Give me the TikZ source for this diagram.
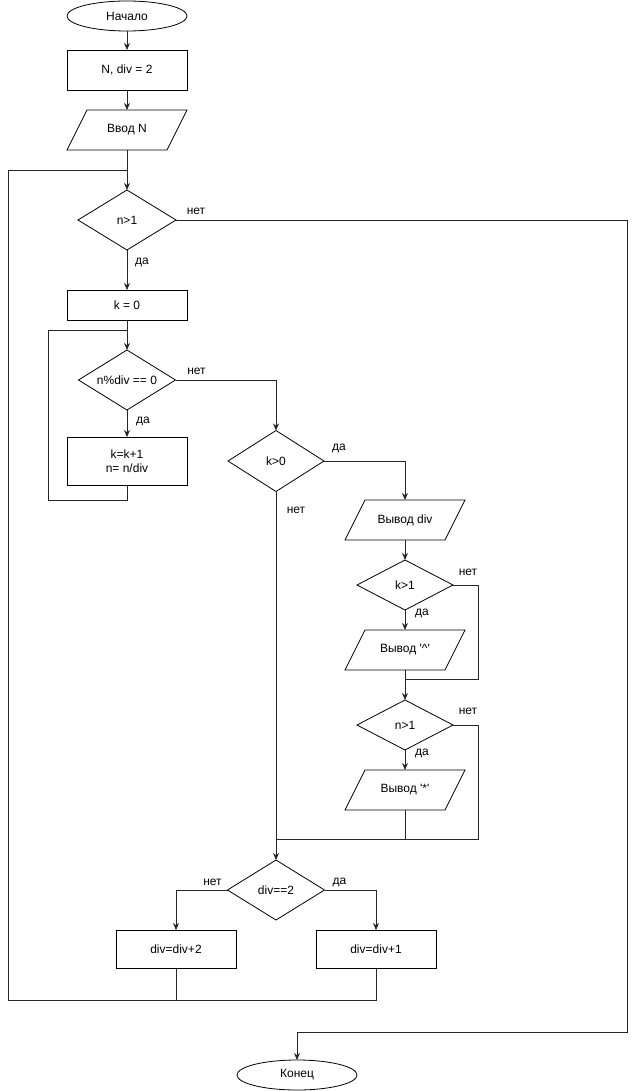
\documentclass[tikz,border=0pt]{standalone}
\usepackage{fontspec}
\setmainfont{Liberation Sans}[Ligatures=TeXOff]
\usetikzlibrary{shapes.geometric,arrows.meta,positioning,calc}
\tikzset{
  term/.style={draw,ellipse,minimum width=120pt,minimum height=30pt,inner sep=0pt,outer sep=0pt},
  proc/.style={draw,rectangle,minimum width=120pt,minimum height=40pt,align=center,inner sep=0pt,outer sep=0pt},
  io/.style={rectangle,minimum width=100pt,minimum height=40pt,inner sep=0pt,outer sep=0pt,
             append after command={\pgfextra{\draw[line width=0.8pt]
               ($(\tikzlastnode.north west)+(10pt,0pt)$) -- ($(\tikzlastnode.north east)+(10pt,0pt)$)
               -- ($(\tikzlastnode.south east)+(-10pt,0pt)$) -- ($(\tikzlastnode.south west)+(-10pt,0pt)$) -- cycle;}}},
  cond/.style={draw,diamond,aspect=1.6,minimum width=97pt,minimum height=60pt,inner sep=0pt,outer sep=0pt},
  lbl/.style={inner sep=0pt},
  conn/.style={line width=0.8pt,black!85},
  arr/.style={conn,-{Stealth[length=7pt,width=6pt]}},
}
\begin{document}
\begin{tikzpicture}[x=1pt,y=-1pt,font=\fontsize{12}{14}\selectfont,line width=0.8pt]
  \useasboundingbox (0,0) rectangle (637,1091);
  % blocks
  \node[term] (start) at (127,16) {Начало};
  \node[proc] (init) at (127,70) {N, div = 2};
  \node[io] (input) at (127,130) {Ввод N};
  \node[cond,minimum width=98pt] (c1) at (127,220) {n>1};
  \node[proc,minimum height=30pt] (k0) at (127,305) {k = 0};
  \node[cond] (c2) at (127,380) {n\%div == 0};
  \node[proc,minimum height=48pt] (upd) at (127,461) {k=k+1\\n= n/div};
  \node[cond,minimum width=96pt,minimum height=61pt] (c3) at (276,461) {k>0};
  \node[io] (outdiv) at (405,520) {Вывод div};
  \node[cond,minimum width=96pt,minimum height=50pt] (c4) at (405,585) {k>1};
  \node[io] (outpow) at (405,650) {Вывод '\^{}'};
  \node[cond,minimum width=96pt,minimum height=50pt] (c5) at (405,725) {n>1};
  \node[io] (outmul) at (405,790) {Вывод '*'};
  \node[cond] (c6) at (276,890) {div==2};
  \node[proc,minimum height=38pt] (add2) at (176,949) {div=div+2};
  \node[proc,minimum height=38pt] (add1) at (376,949) {div=div+1};
  \node[term] (stop) at (297,1075) {Конец};
  % joints
  \coordinate (top1) at (127,170);
  \coordinate (top2) at (127,330);
  \coordinate (lp1) at (8,1000);
  \coordinate (lp2) at (48,500);
  \coordinate (r1) at (627,1032);
  \coordinate (j1) at (405,679);
  \coordinate (j1r) at (478,679);
  \coordinate (j2r) at (478,839);
  \coordinate (mrg) at (276,839);
  % connectors
  \draw[arr] (start) -- (init);
  \draw[arr] (init) -- (input);
  \draw[arr] (input) -- (c1);
  \draw[arr] (c1) -- (k0);
  \node[lbl] (l1y) at ($(c1.south)+(15,12)$) {да};
  \draw[arr] (c1.east) -| (r1) -| (stop);
  \node[lbl] (l1n) at ($(c1.east)+(20,-9)$) {нет};
  \draw[arr] (k0) -- (c2);
  \draw[arr] (c2) -- (upd);
  \node[lbl] (l2y) at ($(c2.south)+(16,11)$) {да};
  \draw[conn] (upd.south) |- (lp2) |- (top2);
  \draw[arr] (c2.east) -| (c3);
  \node[lbl] (l2n) at ($(c2.east)+(21,-9)$) {нет};
  \draw[arr] (c3.east) -| (outdiv);
  \node[lbl] (l3y) at ($(c3.east)+(15,-13)$) {да};
  \draw[arr] (c3) -- (c6);
  \node[lbl] (l3n) at ($(c3.south)+(20,19)$) {нет};
  \draw[arr] (outdiv) -- (c4);
  \draw[arr] (c4) -- (outpow);
  \node[lbl] (l4y) at ($(c4.south)+(17,3)$) {да};
  \draw[conn] (c4.east) -| (j1r) -- (j1);
  \node[lbl] (l4n) at ($(c4.east)+(15,-13)$) {нет};
  \draw[arr] (outpow) -- (c5);
  \draw[arr] (c5) -- (outmul);
  \node[lbl] (l5y) at ($(c5.south)+(17,3)$) {да};
  \draw[conn] (c5.east) -| (j2r) -- (mrg);
  \node[lbl] (l5n) at ($(c5.east)+(15,-14)$) {нет};
  \draw[conn] (outmul) -- (outmul |- mrg);
  \draw[arr] (c6.west) -| (add2);
  \node[lbl] (l6n) at ($(c6.west)+(-15,-8)$) {нет};
  \draw[arr] (c6.east) -| (add1);
  \node[lbl] (l6y) at ($(c6.east)+(15,-8)$) {да};
  \draw[conn] (add1.south) |- (lp1) |- (top1);
  \draw[conn] (add2) -- (add2 |- lp1);
\end{tikzpicture}
\end{document}
